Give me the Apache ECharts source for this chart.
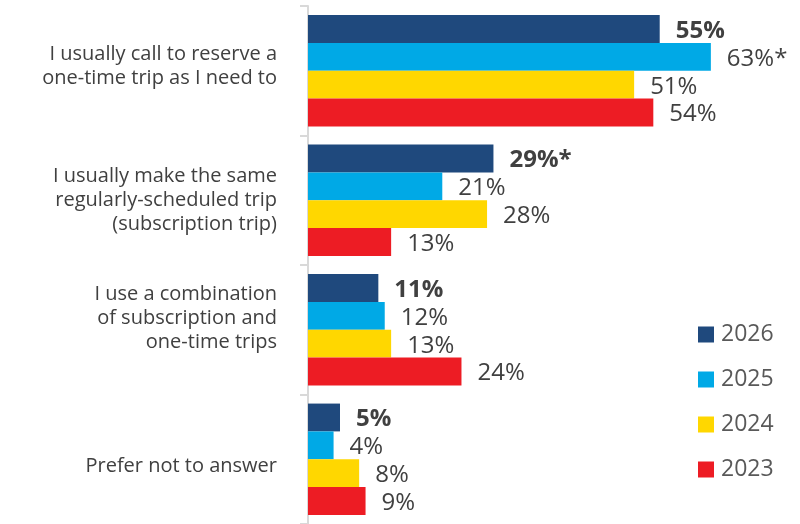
<!DOCTYPE html>
<html>
<head>
<meta charset="utf-8">
<script src="https://cdn.jsdelivr.net/npm/echarts@6/dist/echarts.min.js"></script>
<style>
  html, body { margin: 0; padding: 0; background: #ffffff; }
  #chart { width: 800px; height: 524px; }
</style>
</head>
<body>
<div id="chart"></div>
<script>
// Trip booking behaviour by survey year
const categories = [
  'I usually call to reserve a\none-time trip as I need to',
  'I usually make the same\nregularly-scheduled trip\n(subscription trip)',
  'I use a combination\nof subscription and\none-time trips',
  'Prefer not to answer'
];
const years = ['2026', '2025', '2024', '2023'];
const values2026 = [55, 29, 11, 5];
const values2025 = [63, 21, 12, 4];
const values2024 = [51, 28, 13, 8];
const values2023 = [54, 13, 24, 9];
// significance markers appended to value labels
const notes2026 = ['', '*', '', ''];
const notes2025 = ['*', '', '', ''];
const notes2024 = ['', '', '', ''];
const notes2023 = ['', '', '', ''];

const colors = ['#1f497d', '#00a9e6', '#ffd700', '#ed1c24'];
const seriesValues = [values2026, values2025, values2024, values2023];
const seriesNotes = [notes2026, notes2025, notes2024, notes2023];

// vertical nudge (px) of each category caption; negative moves it up
const captionShift = [-4, 0, -11, 7];

const FONT = '"Open Sans", Lato, sans-serif';

const rich = {
  t: { fontFamily: FONT, fontSize: 20, lineHeight: 24, color: '#404040', align: 'right' }
};
captionShift.forEach((s, i) => {
  rich['p' + i] = { fontSize: 1, lineHeight: Math.max(1, Math.abs(s) * 2), align: 'right' };
});

const chart = echarts.init(document.getElementById('chart'), null, { renderer: 'canvas' });

const series = years.map((year, i) => ({
  name: year,
  type: 'bar',
  data: seriesValues[i],
  barGap: '0%',
  barCategoryGap: '14%',
  itemStyle: { color: colors[i] },
  label: {
    show: true,
    position: 'right',
    distance: 16,
    offset: [0, 2],
    fontFamily: FONT,
    fontSize: 24,
    fontWeight: i === 0 ? 'bold' : 'normal',
    color: '#404040',
    formatter: p => p.value + '%' + seriesNotes[i][p.dataIndex]
  }
}));

chart.setOption({
  animation: false,
  color: colors,
  grid: { left: 308, right: 6, top: 6, bottom: 0, containLabel: false },
  legend: {
    orient: 'vertical',
    left: 693,
    top: 318,
    itemWidth: 16,
    itemHeight: 16,
    itemGap: 22,
    icon: 'rect',
    textStyle: { fontFamily: FONT, fontSize: 23, color: '#595959', padding: [0, 0, 0, 2] },
    data: years
  },
  xAxis: {
    type: 'value',
    min: 0,
    max: 76,
    show: false
  },
  yAxis: {
    type: 'category',
    inverse: true,
    data: categories,
    axisLine: { show: true, lineStyle: { color: '#d9d9d9', width: 2 } },
    axisTick: { show: true, length: 8, lineStyle: { color: '#d9d9d9', width: 2 } },
    axisLabel: {
      margin: 31,
      align: 'right',
      rich: rich,
      formatter: (value, index) => {
        const body = value.split('\n').map(l => '{t|' + l + '}').join('\n');
        const s = captionShift[index];
        if (s < 0) return body + '\n{p' + index + '| }';
        if (s > 0) return '{p' + index + '| }\n' + body;
        return body;
      }
    }
  },
  series: series
});
</script>
</body>
</html>
